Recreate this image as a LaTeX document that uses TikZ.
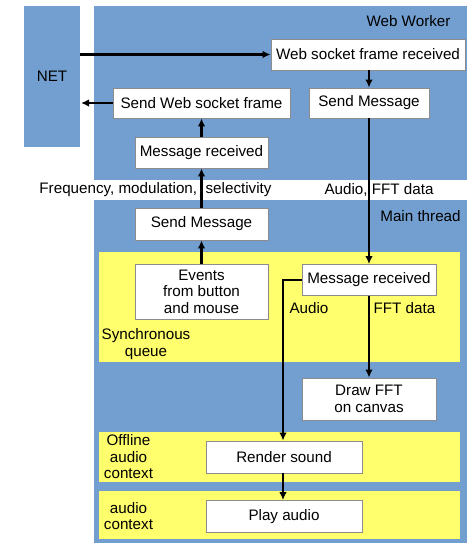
\documentclass[tikz,border=0pt]{standalone}
\usepackage{fontspec}
\setmainfont{Liberation Sans}
\usetikzlibrary{arrows.meta}
\definecolor{areablue}{HTML}{729FCF}
\definecolor{queueyellow}{HTML}{FFFF6D}
\definecolor{boxline}{HTML}{8C8C8C}
\begin{document}
\begin{tikzpicture}[x=1pt,y=-1pt,
  font=\fontsize{15.2}{16.5}\selectfont,
  area/.style={fill=areablue,draw=none},
  queue/.style={fill=queueyellow,draw=none},
  stepbox/.style={draw=boxline,line width=0.8pt,fill=white,inner sep=0pt,align=center},
  flow/.style={draw=black,line width=2.3pt},
  flowarrow/.style={flow,-{Latex[length=8pt,width=7.5pt]}},
  lbl/.style={inner sep=0pt,align=center}]
\useasboundingbox (0,0) rectangle (472,544);

% regions
\fill[area] (24,6) rectangle (80,147);
\fill[area] (94,6) rectangle (467,180);
\fill[area] (94,200) rectangle (467,543);
\fill[queue] (99,252) rectangle (460,362);
\fill[queue] (99,432) rectangle (460,482);
\fill[queue] (99,491) rectangle (460,539);

% region labels
\node[lbl] (net) at (52,76) {NET};
\coordinate (neteast) at (80,76);
\node[lbl] (wwlabel) at (408.5,21) {Web Worker};
\node[lbl] (mtlabel) at (420.5,216) {Main thread};
\node[lbl] (sqlabel) at (146,344) {Synchronous\\queue};
\node[lbl] (oaclabel) at (128.5,457) {Offline\\audio\\context};
\node[lbl] (aclabel) at (128.5,516) {audio\\context};

% steps in the web worker
\node[stepbox,minimum width=194pt,minimum height=31pt] (wsfr) at (368,54.5) {Web socket frame received};
\node[stepbox,minimum width=120pt,minimum height=30pt] (sendmsgW) at (369,103) {Send Message};
\node[stepbox,minimum width=177pt,minimum height=30pt] (sendwsf) at (201.5,103) {Send Web socket frame};
\node[stepbox,minimum width=133pt,minimum height=31pt] (msgrecW) at (201.5,152.5) {Message received};

% steps in the main thread
\node[stepbox,minimum width=133pt,minimum height=32pt] (sendmsgM) at (201.5,224) {Send Message};
\node[stepbox,minimum width=133pt,minimum height=55pt] (events) at (201.5,291.5) {Events\\from button\\and mouse};
\node[stepbox,minimum width=134pt,minimum height=31pt] (msgrecM) at (369,280) {Message received};
\node[stepbox,minimum width=134pt,minimum height=42pt] (drawfft) at (369,399) {Draw FFT\\on canvas};
\node[stepbox,minimum width=156pt,minimum height=32pt] (render) at (284,457) {Render sound};
\node[stepbox,minimum width=156pt,minimum height=32pt] (play) at (284,516.5) {Play audio};

% connector labels
\node[lbl] (ctrllabel) at (155.5,190) {Frequency, modulation,\hspace{8.5pt}selectivity};
\node[lbl] (datalabel) at (379,190) {Audio, FFT data};
\node[lbl] (audiolabel) at (309,308) {Audio};
\node[lbl] (fftlabel) at (404.5,308) {FFT data};

% connectors
\draw[flowarrow] (wsfr.west -| neteast) -- (wsfr.west);
\draw[flowarrow] (wsfr.south -| sendmsgW.north) -- (sendmsgW.north);
\draw[flowarrow] (sendmsgW.south) -- (msgrecM.north);
\draw[flowarrow] (sendmsgM.north) -- (msgrecW.south);
\draw[flowarrow] (msgrecW.north) -- (sendwsf.south);
\draw[flowarrow] (sendwsf.west) -- ([xshift=1pt]sendwsf.west -| neteast);
\draw[flowarrow] (events.north) -- (sendmsgM.south);
\draw[flowarrow] (msgrecM.south) -- (drawfft.north);
\coordinate (audiobend) at (283,280);
\draw[flowarrow] (msgrecM.west) -- (audiobend) -- (audiobend |- render.north);
\draw[flowarrow] (audiobend |- render.south) -- (audiobend |- play.north);
\end{tikzpicture}
\end{document}
